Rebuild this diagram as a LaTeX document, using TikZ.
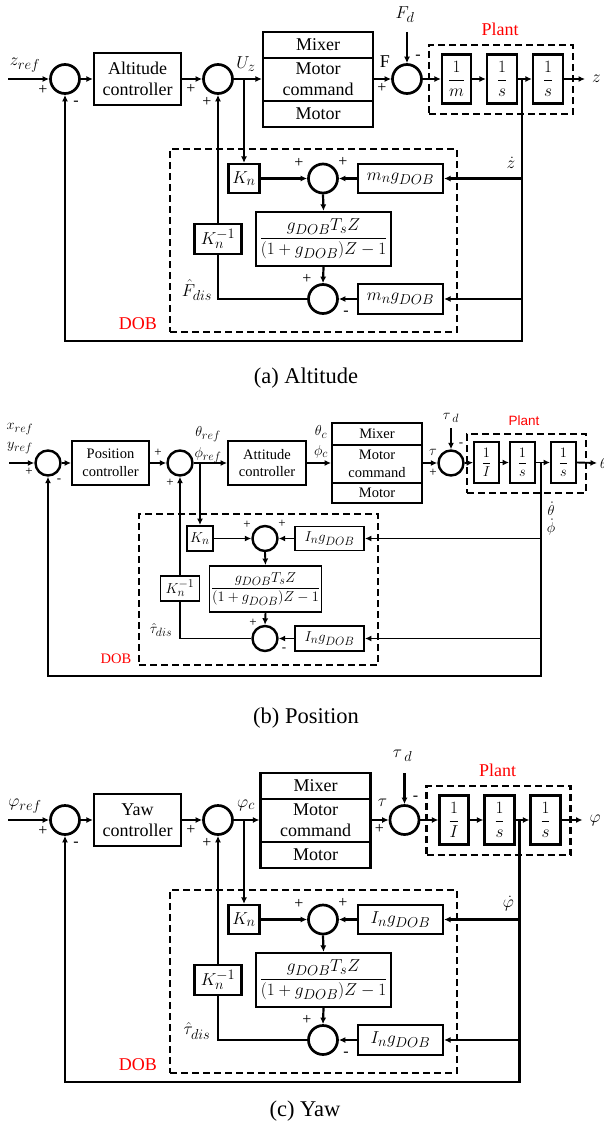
\documentclass[tikz,border=0pt]{standalone}
\usepackage{amsmath}
\usepackage{fontspec}
\setmainfont{Liberation Serif}
\newfontfamily\plantsans{Liberation Sans}
\DeclareMathSizes{18}{19}{14.5}{11}
\DeclareMathSizes{14.5}{15.2}{11.8}{9}
\usetikzlibrary{arrows.meta}
\def\lw{2.2pt}
\def\lwc{2.7pt}
\tikzset{
  ln/.style={line width=\lw},
  arr/.style={line width=\lw,-{Latex[length=6.5pt,width=6pt]}},
  blk/.style={draw,line width=\lw,inner sep=0pt,align=center},
  sumA/.style={circle,draw,line width=\lwc,inner sep=0pt,minimum size=29pt},
  sumB/.style={circle,draw,line width=\lwc,inner sep=0pt,minimum size=25pt},
  dbox/.style={draw,line width=\lw,dash pattern=on 7pt off 4pt},
  sgnA/.style={inner sep=0pt,font=\fontsize{16}{16}\selectfont},
  sgnB/.style={inner sep=0pt,font=\fontsize{13}{13}\selectfont},
  fA/.style={font=\fontsize{18}{21}\selectfont},
  fB/.style={font=\fontsize{14.5}{17.5}\selectfont},
  redlbl/.style={text=red,inner sep=0pt},
  captxt/.style={font=\fontsize{22.5}{24}\selectfont,inner sep=0pt}
}
% diagram (a)/(c): uses \Lin \Lctrl \Lu \LF \Ld \Lm \Lout \Ldot \Lg \Lhat, shift \rs
\newcommand\drawAC{%
  \begin{scope}[fA]
  \coordinate (in) at (8,79);
  \node[inner sep=0pt] (tin) at (25,65) {\Lin};
  \node[sumA] (s1) at (65,79) {};
  \node[sgnA] (s1p) at (43,90) {+};
  \node[sgnA] (s1m) at (76,103) {-};
  \node[blk,minimum width=87pt,minimum height=52pt] (ctrl) at (137.5,79) {\Lctrl\\controller};
  \node[sumA] (s2) at (218,79) {};
  \node[sgnA] (s2p) at (191,89) {+};
  \node[sgnA] (s2q) at (207,102) {+};
  \node[inner sep=0pt] (tu) at (246,64) {\Lu};
  \coordinate (bU) at (244,79);
  \begin{scope}[shift={(\rs,0)}]
  \node[blk,minimum width=110pt,minimum height=26pt] (mx1) at (318,45) {Mixer};
  \node[blk,minimum width=110pt,minimum height=43pt] (mx2) at (318,79.5) {Motor\\command};
  \node[blk,minimum width=110pt,minimum height=26pt] (mx3) at (318,114) {Motor};
  \node[inner sep=0pt] (tF) at (385,62) {\LF};
  \node[sumA] (s3) at (407,79) {};
  \node[inner sep=0pt] (td) at (405,15) {\Ld};
  \coordinate (dtop) at (407,32);
  \node[sgnA] (s3m) at (418,57) {-};
  \node[sgnA] (s3p) at (382,88) {+};
  \node[dbox,minimum width=144pt,minimum height=69pt] (plant) at (501,79.5) {};
  \node[redlbl] (tplant) at (500,29) {Plant};
  \node[blk,minimum width=29pt,minimum height=49pt] (p1) at (456.5,79) {\Lm};
  \node[blk,minimum width=30pt,minimum height=49pt] (p2) at (502,79) {$\dfrac{1}{s}$};
  \node[blk,minimum width=30pt,minimum height=49pt] (p3) at (548,79) {$\dfrac{1}{s}$};
  \coordinate (b1) at (522,79);
  \coordinate (out) at (585,79);
  \node[inner sep=0pt,anchor=west] (tout) at (592,79) {\Lout};
  \node[inner sep=0pt] (tdot) at (511,163) {\Ldot};
  \end{scope}
  % DOB
  \node[dbox,minimum width=287pt,minimum height=183pt] (dob) at (313.5,240.5) {};
  \node[redlbl] (tdob) at (138,324) {DOB};
  \node[blk,minimum width=31pt,minimum height=29pt] (kn) at (244,178.5) {$K_n$};
  \node[sumA] (s4) at (323,178.5) {};
  \node[sgnA] (s4a) at (299,163) {+};
  \node[sgnA] (s4b) at (343,162) {+};
  \node[blk,minimum width=85pt,minimum height=29pt] (gU) at (400.5,178.5) {\Lg};
  \node[blk,minimum width=135pt,minimum height=54pt] (frac) at (323.5,239) {$\dfrac{g_{DOB}T_sZ}{(1+g_{DOB})Z-1}$};
  \node[blk,minimum width=47pt,minimum height=30pt] (kinv) at (218,239) {$K_n^{-1}$};
  \node[sumA] (s5) at (323,299) {};
  \node[sgnA] (s5a) at (307,279) {+};
  \node[sgnA] (s5b) at (346,313) {-};
  \node[blk,minimum width=85pt,minimum height=30pt] (gL) at (400.5,299) {\Lg};
  \node[inner sep=0pt] (that) at (197,290) {\Lhat};
  \coordinate (fbL) at (65,341);
  % connectors
  \draw[arr] (in) -- (s1.west);
  \draw[arr] (s1.east) -- (ctrl.west);
  \draw[arr] (ctrl.east) -- (s2.west);
  \draw[arr] (s2.east) -- (s2.east -| mx2.west);
  \draw[arr] (mx2.east |- s3.west) -- (s3.west);
  \draw[arr] (dtop) -- (s3.north);
  \draw[arr] (s3.east) -- (p1.west);
  \draw[arr] (p1.east) -- (p2.west);
  \draw[arr] (p2.east) -- (p3.west);
  \draw[arr] (p3.east) -- (out);
  \draw[arr] (b1) |- (fbL) -- (s1.south);
  \draw[arr] (bU) -- (kn.north);
  \draw[arr] (kn.east) -- (s4.west);
  \draw[arr] (b1 |- gU.east) -- (gU.east);
  \draw[arr] (gU.west) -- (s4.east);
  \draw[arr] (s4.south) -- (frac.north);
  \draw[arr] (frac.south) -- (s5.north);
  \draw[arr] (b1 |- gL.east) -- (gL.east);
  \draw[arr] (gL.west) -- (s5.east);
  \draw[ln] (s5.west) -| (kinv.south);
  \draw[arr] (kinv.north) -- (s2.south);
  \end{scope}
}
\begin{document}
\begin{tikzpicture}[x=1pt,y=-1pt]
\useasboundingbox[fill=white] (0,0) rectangle (603,1124);
% ---------------- (a) Altitude
\def\rs{0}
\def\Lin{$z_{ref}$}
\def\Lctrl{Altitude}
\def\Lu{$U_z$}
\def\LF{F}
\def\Ld{$F_d$}
\def\Lm{$\dfrac{1}{m}$}
\def\Lout{$z$}
\def\Ldot{$\dot{z}$}
\def\Lg{$m_ng_{DOB}$}
\def\Lhat{$\hat{F}_{dis}$}
\begin{scope}[name prefix=a-]
\drawAC
\end{scope}
\node[captxt] (capa) at (306,378) {(a) Altitude};
% ---------------- (c) Yaw
\def\rs{-2.5}
\def\Lin{$\varphi_{ref}$}
\def\Lctrl{Yaw}
\def\Lu{$\varphi_c$}
\def\LF{$\tau$}
\def\Ld{$\tau_{\;d}$}
\def\Lm{$\dfrac{1}{I}$}
\def\Lout{$\varphi$}
\def\Ldot{$\dot{\varphi}$}
\def\Lg{$I_ng_{DOB}$}
\def\Lhat{$\hat{\tau}_{dis}$}
\begin{scope}[name prefix=c-,shift={(0,741)}]
\drawAC
\end{scope}
\node[captxt] (capc) at (305,1111) {(c) Yaw};
% ---------------- (b) Position
\def\lw{1.9pt}
\def\lwc{2.4pt}
\begin{scope}[name prefix=b-,fB]
  \coordinate (in) at (9,463);
  \node[inner sep=0pt] (tx) at (20,429) {$x_{ref}$};
  \node[inner sep=0pt] (ty) at (20,448) {$y_{ref}$};
  \node[sumB] (s1) at (48,463) {};
  \node[sgnB] (s1p) at (29,472) {+};
  \node[sgnB] (s1m) at (59,481) {-};
  \node[blk,minimum width=77pt,minimum height=44pt] (ctrl) at (110.5,463) {Position\\controller};
  \node[sgnB] (s2p) at (158,453) {+};
  \node[sumB] (s2) at (180,463) {};
  \node[sgnB] (s2q) at (170,483) {+};
  \node[inner sep=0pt] (tth) at (208,434) {$\theta_{ref}$};
  \node[inner sep=0pt] (tph) at (208,455) {$\phi_{ref}$};
  \coordinate (bU) at (200,463);
  \node[blk,minimum width=78pt,minimum height=44pt] (att) at (267,463) {Attitude\\controller};
  \node[inner sep=0pt] (tthc) at (321,432) {$\theta_c$};
  \node[inner sep=0pt] (tphc) at (321,452) {$\phi_c$};
  \node[blk,minimum width=90pt,minimum height=22pt] (mx1) at (377,434) {Mixer};
  \node[blk,minimum width=90pt,minimum height=38pt] (mx2) at (377,464) {Motor\\command};
  \node[blk,minimum width=90pt,minimum height=20pt] (mx3) at (377,493) {Motor};
  \node[inner sep=0pt] (ttau) at (433,452) {$\tau$};
  \node[sgnB] (s3p) at (433,473) {+};
  \node[sumB] (s3) at (451,463) {};
  \node[inner sep=0pt] (td) at (451,418) {$\tau_{\;d}$};
  \coordinate (dtop) at (451,428);
  \node[sgnB] (s3m) at (461,445) {-};
  \node[dbox,minimum width=119pt,minimum height=59pt] (plant) at (526.5,463.5) {};
  \node[redlbl,font=\plantsans\fontsize{13.5}{14}\selectfont] (tplant) at (524,421) {Plant};
  \node[blk,minimum width=25pt,minimum height=41pt] (p1) at (486.5,462.5) {$\dfrac{1}{I}$};
  \node[blk,minimum width=25pt,minimum height=41pt] (p2) at (522.5,462.5) {$\dfrac{1}{s}$};
  \node[blk,minimum width=25pt,minimum height=41pt] (p3) at (563.5,462.5) {$\dfrac{1}{s}$};
  \coordinate (b1) at (541,463);
  \coordinate (out) at (597,463);
  \node[inner sep=0pt,anchor=west] (tout) at (600,463) {$\theta$};
  \node[inner sep=0pt] (tdt) at (551,509) {$\dot{\theta}$};
  \node[inner sep=0pt] (tdp) at (551,527) {$\dot{\phi}$};
  % DOB
  \node[dbox,minimum width=239pt,minimum height=151pt] (dob) at (258.5,589.5) {};
  \node[redlbl] (tdob) at (116,659) {DOB};
  \node[blk,minimum width=26pt,minimum height=25pt] (kn) at (200,538.5) {$K_n$};
  \node[sumB] (s4) at (265,538.5) {};
  \node[sgnB] (s4a) at (247,525) {+};
  \node[sgnB] (s4b) at (282,524) {+};
  \node[blk,minimum width=69pt,minimum height=24pt] (gU) at (329.5,538.5) {$I_ng_{DOB}$};
  \node[blk,minimum width=112pt,minimum height=46pt] (frac) at (265.5,589) {$\dfrac{g_{DOB}T_sZ}{(1+g_{DOB})Z-1}$};
  \node[blk,minimum width=39pt,minimum height=25pt] (kinv) at (180,588.5) {$K_n^{-1}$};
  \node[sumB] (s5) at (265,638.5) {};
  \node[sgnB] (s5a) at (253,623) {+};
  \node[sgnB] (s5b) at (284,650) {-};
  \node[blk,minimum width=69pt,minimum height=25pt] (gL) at (329.5,638.5) {$I_ng_{DOB}$};
  \node[inner sep=0pt] (that) at (161,630) {$\hat{\tau}_{dis}$};
  \coordinate (fbL) at (48,676);
  % connectors
  \draw[arr] (in) -- (s1.west);
  \draw[arr] (s1.east) -- (ctrl.west);
  \draw[arr] (ctrl.east) -- (s2.west);
  \draw[arr] (s2.east) -- (att.west);
  \draw[arr] (att.east) -- (att.east -| mx2.west);
  \draw[arr] (mx2.east |- s3.west) -- (s3.west);
  \draw[arr] (dtop) -- (s3.north);
  \draw[arr] (s3.east) -- (p1.west);
  \draw[arr] (p1.east) -- (p2.west);
  \draw[arr] (p2.east) -- (p3.west);
  \draw[arr] (p3.east) -- (out);
  \draw[arr] (b1) |- (fbL) -- (s1.south);
  \draw[arr] (bU) -- (kn.north);
  \draw[arr] (kn.east) -- (s4.west);
  \draw[arr] (b1 |- gU.east) -- (gU.east);
  \draw[arr] (gU.west) -- (s4.east);
  \draw[arr] (s4.south) -- (frac.north);
  \draw[arr] (frac.south) -- (s5.north);
  \draw[arr] (b1 |- gL.east) -- (gL.east);
  \draw[arr] (gL.west) -- (s5.east);
  \draw[ln] (s5.west) -| (kinv.south);
  \draw[arr] (kinv.north) -- (s2.south);
\end{scope}
\node[captxt] (capb) at (306,718) {(b) Position};
\end{tikzpicture}
\end{document}
